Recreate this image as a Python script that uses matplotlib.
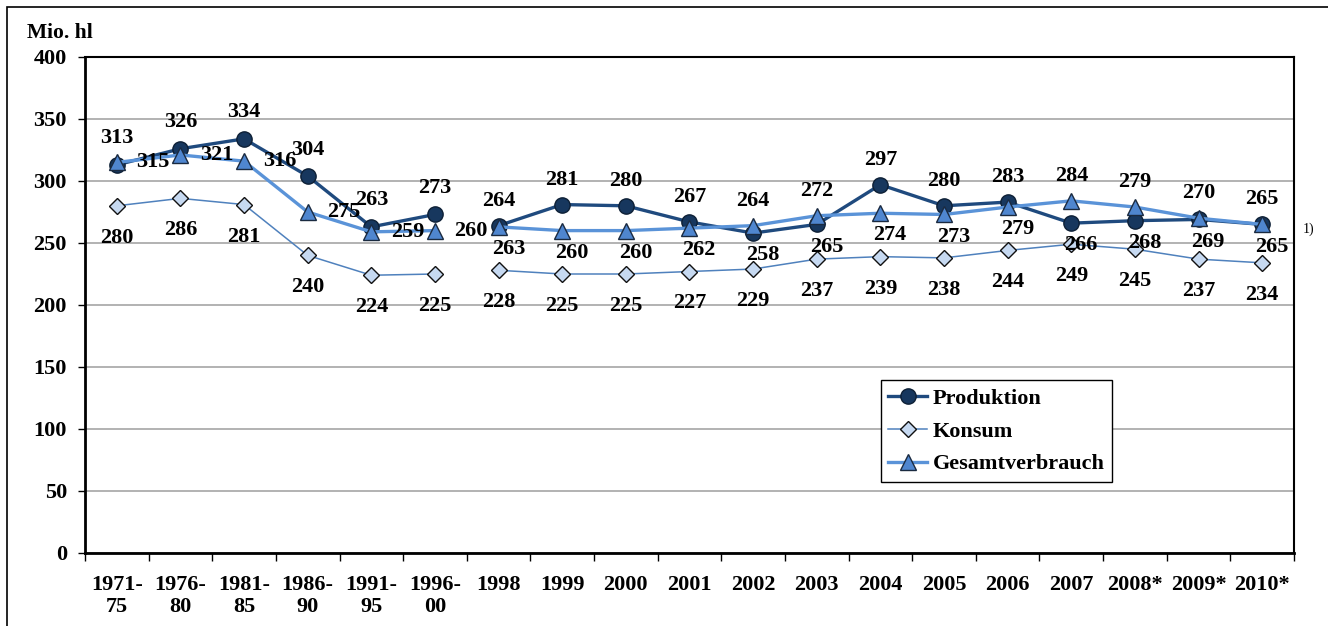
import numpy as np
import matplotlib.pyplot as plt
from matplotlib.patches import Rectangle

# Bier: Produktion, Konsum und Gesamtverbrauch (Mio. hl)
categories = ["1971-\n75", "1976-\n80", "1981-\n85", "1986-\n90", "1991-\n95", "1996-\n00",
              "1998", "1999", "2000", "2001", "2002", "2003", "2004", "2005", "2006",
              "2007", "2008*", "2009*", "2010*"]
produktion = [313, 326, 334, 304, 263, 273,
              264, 281, 280, 267, 258, 265, 297, 280, 283, 266, 268, 269, 265]
konsum = [280, 286, 281, 240, 224, 225,
          228, 225, 225, 227, 229, 237, 239, 238, 244, 249, 245, 237, 234]
gesamtverbrauch = [315, 321, 316, 275, 259, 260,
                   263, 260, 260, 262, 264, 272, 274, 273, 279, 284, 279, 270, 265]
n_blocks = 6  # five-year averages, the line breaks after them

FONT = "Liberation Serif"
plt.rcParams["font.family"] = [FONT, "DejaVu Serif"]
plt.rcParams["font.weight"] = "bold"
FS = 16

fig = plt.figure(figsize=(13.28, 6.26), dpi=100)
ax = fig.add_axes([85 / 1328, 73 / 626, 1209 / 1328, 496 / 626])

x = np.arange(len(categories))
prod_style = dict(color="#1F4A7E", lw=2.4, marker="o", ms=11, mfc="#17375E",
                  mec="#0D1F35", mew=1.0, label="Produktion", zorder=4)
kons_style = dict(color="#4F81BD", lw=1.1, marker="D", ms=8.5, mfc="#C6D9F1",
                  mec="#111111", mew=1.0, label="Konsum", zorder=3)
ges_style = dict(color="#5A93D8", lw=2.4, marker="^", ms=11.5, mfc="#4F86CF",
                 mec="#1A2A40", mew=1.0, label="Gesamtverbrauch", zorder=5)

for seg in (slice(0, n_blocks), slice(n_blocks, len(categories))):
    first = seg.start == 0
    for vals, st in ((produktion, prod_style), (konsum, kons_style),
                     (gesamtverbrauch, ges_style)):
        s = dict(st)
        if not first:
            s["label"] = "_nolegend_"
        ax.plot(x[seg], np.array(vals)[seg], **s)

lab = dict(ha="center", va="center", fontsize=FS, fontweight="bold",
           textcoords="offset points", zorder=6)
for i in x:
    p, k, g = produktion[i], konsum[i], gesamtverbrauch[i]
    ax.annotate(str(k), (i, k), xytext=(0, -23), **lab)
    if i < n_blocks:
        ax.annotate(str(p), (i, p), xytext=(0, 19), **lab)
        ax.annotate(str(g), (i, g), xytext=(26, 0), **lab)
    else:
        if g > p:
            hi, lo = g, p
        else:
            hi, lo = p, g
        ax.annotate(str(hi), (i, hi), xytext=(0, 18), **lab)
        ax.annotate(str(lo), (i, lo), xytext=(7, -16), **lab)

ax.set_xlim(-0.5, len(categories) - 0.5)
ax.set_ylim(0, 400)
ax.set_yticks(np.arange(0, 401, 50))
ax.yaxis.grid(True, color="#A6A6A6", lw=1.2)
ax.set_axisbelow(True)
ax.tick_params(axis="y", direction="out", length=5, width=1, pad=8, labelsize=FS)
ax.set_xticks(x)
ax.set_xticklabels(categories, linespacing=1.15)
ax.set_xticks(np.arange(-0.5, len(categories)), minor=True)
ax.tick_params(axis="x", which="major", length=0, pad=16, labelsize=FS)
ax.tick_params(axis="x", which="minor", direction="out", length=6, width=1)
for lbl in ax.get_xticklabels() + ax.get_yticklabels():
    lbl.set_fontweight("bold")
for side, sp in ax.spines.items():
    sp.set_color("black")
    sp.set_linewidth(2.0 if side in ("left", "bottom") else 1.5)

leg = ax.legend(loc="upper left", bbox_to_anchor=(0.658, 0.348), fontsize=FS,
                frameon=True, fancybox=False, edgecolor="black", framealpha=1,
                handlelength=1.75, handletextpad=0.25, borderpad=0.35,
                labelspacing=0.55, borderaxespad=0)
leg.get_frame().set_linewidth(1.0)
for t in leg.get_texts():
    t.set_fontweight("bold")

fig.text(27 / 1328, 1 - 33 / 626, "Mio. hl", fontsize=15.5, fontweight="bold",
         ha="left", va="center")
fig.text(1303 / 1328, 1 - 229 / 626, "1)", fontsize=10, fontweight="normal",
         ha="left", va="center")

# outer frame of the original sheet
fig.patches.append(Rectangle((7 / 1328, -0.1), 1.2, 1 - 7 / 626 + 0.1,
                             transform=fig.transFigure, fill=False,
                             edgecolor="black", lw=1.2))

fig.savefig("out.png", dpi=100)
